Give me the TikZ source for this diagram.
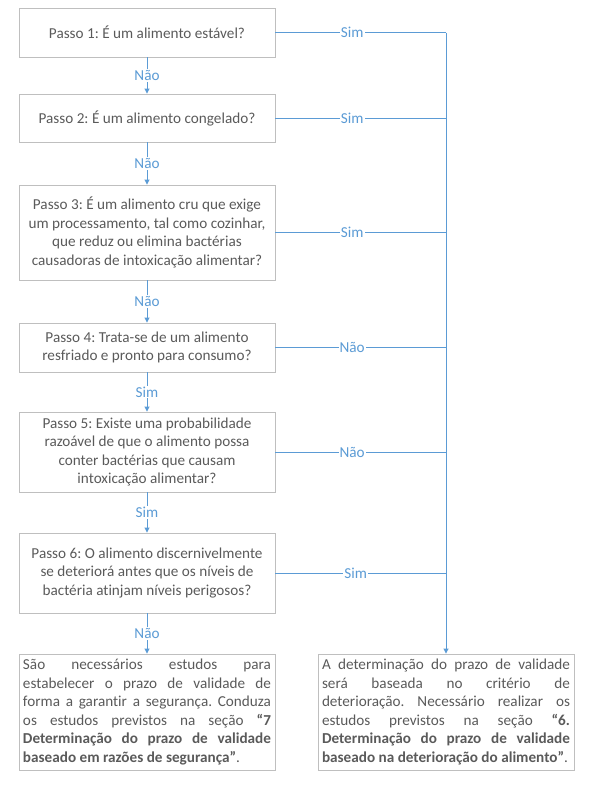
\documentclass[tikz,border=0pt]{standalone}
\usepackage{fontspec}
\setmainfont{Carlito}[Ligatures=NoCommon]
\usetikzlibrary{arrows.meta}

\definecolor{flowblue}{RGB}{91,155,213}
\definecolor{boxline}{RGB}{191,191,191}
\definecolor{boxtext}{RGB}{90,90,90}

\frenchspacing

\begin{document}
\begin{tikzpicture}[
    x=1pt, y=-1pt,
    font=\fontsize{15.2}{18.6}\selectfont,
    >={Triangle[length=5pt,width=5pt]},
    link/.style={draw=flowblue, line width=0.9pt},
    arrow/.style={link, ->},
    yesno/.style={
        fill=white,
        text=flowblue,
        inner sep=1pt
    },
    stepbox/.style={
        draw=boxline,
        line width=0.9pt,
        text=boxtext,
        align=center,
        minimum width=256pt,
        inner sep=4pt
    },
    resultbox/.style={
        draw=boxline,
        line width=0.9pt,
        text=boxtext,
        align=justify,
        text width=248pt,
        inner sep=4pt,
        minimum height=116pt
    }
]

\useasboundingbox (0,0) rectangle (592,787);

% Steps
\node[stepbox, minimum height=49pt] (step1) at (147,32.5) {Passo 1: É um alimento estável?};

\node[stepbox, minimum height=48pt] (step2) at (147,118) {Passo 2: É um alimento congelado?};

\node[stepbox, minimum height=95pt] (step3) at (147,232.5) {Passo 3: É um alimento cru que exige\\
um processamento, tal como cozinhar,\\
que reduz ou elimina bactérias\\
causadoras de intoxicação alimentar?};

\node[stepbox, minimum height=49pt] (step4) at (147,347.5) {Passo 4: Trata-se de um alimento\\
resfriado e pronto para consumo?};

\node[stepbox, minimum height=80pt] (step5) at (147,452) {Passo 5: Existe uma probabilidade\\
razoável de que o alimento possa\\
conter bactérias que causam\\
intoxicação alimentar?};

\node[stepbox, minimum height=80pt] (step6) at (147,573) {Passo 6: O alimento discernivelmente\\
se deteriorá antes que os níveis de\\
bactéria atinjam níveis perigosos?};

% Results
\node[resultbox] (safety) at (147,712) {São necessários estudos para\linebreak
estabelecer o prazo de validade de\linebreak
forma a garantir a segurança. Conduza\linebreak
os estudos previstos na seção \textbf{“7\linebreak
Determinação do prazo de validade\linebreak
baseado em razões de segurança”}.};

\node[resultbox] (spoilage) at (446,712) {A determinação do prazo de validade\linebreak
será baseada no critério de\linebreak
deterioração. Necessário realizar os\linebreak
estudos previstos na seção \textbf{“6.\linebreak
Determinação do prazo de validade\linebreak
baseado na deterioração do alimento”}.};

% Main chain
\draw[arrow] (step1) -- node[yesno] {Não} (step2);
\draw[arrow] (step2) -- node[yesno] {Não} (step3);
\draw[arrow] (step3) -- node[yesno] {Não} (step4);
\draw[arrow] (step4) -- node[yesno] {Sim} (step5);
\draw[arrow] (step5) -- node[yesno] {Sim} (step6);
\draw[arrow] (step6) -- node[yesno] {Não} (safety);

% Side branches to the right
\coordinate (trunk) at (446,32.5);
\draw[link] (step1.east) -- node[yesno, pos=0.45] {Sim} (step1.east -| trunk);
\draw[link] (step2.east) -- node[yesno, pos=0.45] {Sim} (step2.east -| trunk);
\draw[link] (step3.east) -- node[yesno, pos=0.45] {Sim} (step3.east -| trunk);
\draw[link] (step4.east) -- node[yesno, pos=0.45] {Não} (step4.east -| trunk);
\draw[link] (step5.east) -- node[yesno, pos=0.45] {Não} (step5.east -| trunk);
\draw[link] (step6.east) -- node[yesno, pos=0.47] {Sim} (step6.east -| trunk);
\draw[arrow] (trunk) -- (spoilage.north);

\end{tikzpicture}
\end{document}
